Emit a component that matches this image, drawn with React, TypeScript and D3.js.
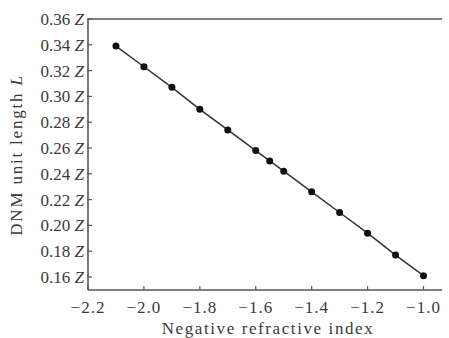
import React from "react";
import * as d3 from "d3";

// Negative refractive index vs. DNM unit length (in units of Z)
const refractiveIndex = [-2.1, -2.0, -1.9, -1.8, -1.7, -1.6, -1.55, -1.5, -1.4, -1.3, -1.2, -1.1, -1.0];
const unitLength = [0.339, 0.323, 0.307, 0.290, 0.274, 0.258, 0.250, 0.242, 0.226, 0.210, 0.194, 0.177, 0.161];
const xTicks = [-2.2, -2.0, -1.8, -1.6, -1.4, -1.2, -1.0];
const yTicks = [0.16, 0.18, 0.20, 0.22, 0.24, 0.26, 0.28, 0.30, 0.32, 0.34, 0.36];

const W = 449;
const H = 338;
const left = 88;
const right = 442;
const top = 19;
const bottom = 290;

export default function App() {
  const x = d3.scaleLinear().domain([-2.2, -1.0]).range([left, 423.5]);
  const y = d3.scaleLinear().domain([0.16, 0.36]).range([277, top]);
  const pts = refractiveIndex.map((v, i) => [x(v), y(unitLength[i])] as [number, number]);
  const line = d3.line();
  const font = '"Liberation Serif", serif';
  const axisColor = "#555";
  const textColor = "#3a3a3a";
  const fmtX = (v: number) => (v < 0 ? "\u2212" : "") + Math.abs(v).toFixed(1);

  return (
    <svg
      width={W}
      height={H}
      style={{ position: "absolute", left: 0, top: 0, background: "#fff", fontFamily: font }}
    >
      <rect x={0} y={0} width={W} height={H} fill="#fff" />
      {/* frame: left axis, bottom axis, top border */}
      <line x1={left} y1={top} x2={left} y2={bottom} stroke={axisColor} strokeWidth={1.6} />
      <line x1={left} y1={bottom} x2={right} y2={bottom} stroke={axisColor} strokeWidth={1.6} />
      <line x1={left} y1={top} x2={right} y2={top} stroke={axisColor} strokeWidth={1.6} />

      {yTicks.map((t) => (
        <g key={"y" + t}>
          <line x1={left - 1} x2={left + 4} y1={y(t)} y2={y(t)} stroke={axisColor} strokeWidth={1.2} />
          <text x={left - 4} y={y(t)} dy="0.35em" textAnchor="end" fontSize={17} fill={textColor}>
            {t.toFixed(2)} <tspan fontStyle="italic">Z</tspan>
          </text>
        </g>
      ))}

      {xTicks.map((t) => (
        <g key={"x" + t}>
          <line x1={x(t)} x2={x(t)} y1={bottom} y2={bottom - 4} stroke={axisColor} strokeWidth={1.2} />
          <text x={x(t)} y={313} textAnchor="middle" fontSize={17} fill={textColor} letterSpacing={1}>
            {fmtX(t)}
          </text>
        </g>
      ))}

      <text x={268} y={334} textAnchor="middle" fontSize={17} fill={textColor} letterSpacing={1.6}>
        Negative refractive index
      </text>

      <text
        transform={`translate(22, ${(73 + 237) / 2}) rotate(-90)`}
        textAnchor="middle"
        fontSize={17}
        fill={textColor}
        letterSpacing={1.8}
      >
        DNM unit length <tspan fontStyle="italic">L</tspan>
      </text>

      <path d={line(pts) ?? ""} fill="none" stroke="#333" strokeWidth={1.5} />
      {pts.map((p, i) => (
        <circle key={i} cx={p[0]} cy={p[1]} r={3.5} fill="#111" />
      ))}
    </svg>
  );
}
